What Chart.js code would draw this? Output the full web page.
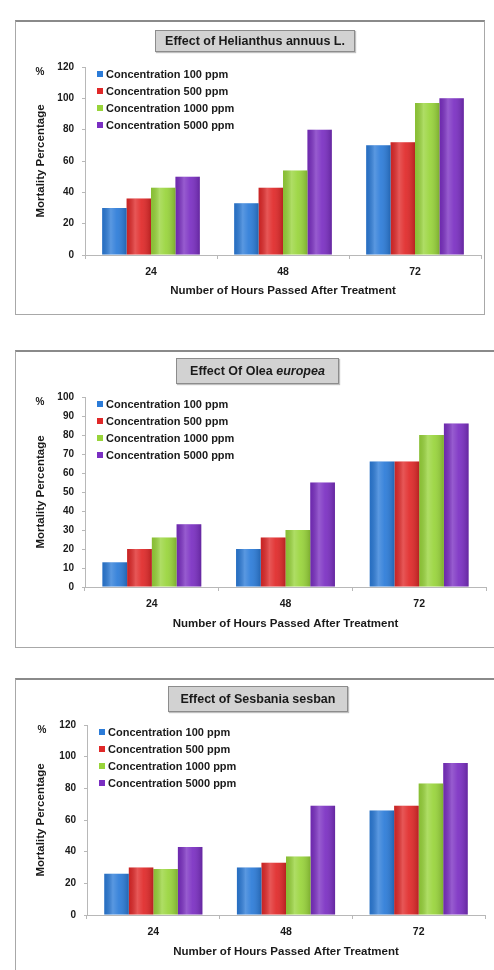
<!DOCTYPE html>
<html>
<head>
<meta charset="utf-8">
<script src="https://cdn.jsdelivr.net/npm/chart.js@4.4.1/dist/chart.umd.min.js"></script>
<style>
  body { margin:0; background:#fff; width:494px; height:970px; overflow:hidden; position:relative;
         font-family:'Liberation Sans', Arial, sans-serif; }
  .panel { position:absolute; left:15px; border:1px solid #a8a8a8; border-top:2px solid #8a8a8a;
           background:#fff; box-sizing:border-box; }
  .panel canvas { position:absolute; left:0; top:0; }
  .ttl { position:absolute; background:#d2d2d2; border:1px solid #8c8c8c; box-sizing:border-box;
         box-shadow:1px 1px 1px rgba(0,0,0,0.25); font:bold 12.5px 'Liberation Sans', Arial, sans-serif;
         color:#1a1a1a; display:flex; align-items:center; justify-content:center; white-space:nowrap; }
</style>
</head>
<body>

<div class="panel" id="p1" style="top:20px;width:470px;height:295px;">
  <canvas id="c1" width="468" height="292"></canvas>
  <div class="ttl" style="left:139px;top:8px;width:200px;height:22px;">Effect of Helianthus annuus L.</div>
</div>

<div class="panel" id="p2" style="top:350px;width:480px;height:298px;">
  <canvas id="c2" width="478" height="295"></canvas>
  <div class="ttl" style="left:160px;top:6px;width:163px;height:26px;">Effect Of Olea&nbsp;<i>europea</i></div>
</div>

<div class="panel" id="p3" style="top:678px;width:480px;height:298px;">
  <canvas id="c3" width="478" height="295"></canvas>
  <div class="ttl" style="left:152px;top:6px;width:180px;height:26px;">Effect of Sesbania sesban</div>
</div>

<script>
// Hours after treatment (x categories) and series names
const HOURS = ['24', '48', '72'];
const SERIES_LABELS = ['Concentration 100 ppm', 'Concentration 500 ppm',
                       'Concentration 1000 ppm', 'Concentration 5000 ppm'];
const SERIES_COLORS = ['#2b7bd8', '#e02828', '#98d43a', '#7a2ec2'];

// Mortality percentage — Helianthus annuus L.
const HELIANTHUS_100  = [30, 33, 70];
const HELIANTHUS_500  = [36, 43, 72];
const HELIANTHUS_1000 = [43, 54, 97];
const HELIANTHUS_5000 = [50, 80, 100];

// Mortality percentage — Olea europea
const OLEA_100  = [13, 20, 66];
const OLEA_500  = [20, 26, 66];
const OLEA_1000 = [26, 30, 80];
const OLEA_5000 = [33, 55, 86];

// Mortality percentage — Sesbania sesban
const SESBANIA_100  = [26, 30, 66];
const SESBANIA_500  = [30, 33, 69];
const SESBANIA_1000 = [29, 37, 83];
const SESBANIA_5000 = [43, 69, 96];

const TEXT = '#1a1a1a';
const FONT = "'Liberation Sans', Arial, sans-serif";

// Cylinder-like shading laid over every bar
const barShade = {
  id: 'barShade',
  afterDatasetsDraw(chart) {
    const ctx = chart.ctx;
    chart.data.datasets.forEach((ds, i) => {
      chart.getDatasetMeta(i).data.forEach(bar => {
        const { x, y, base, width } = bar.getProps(['x', 'y', 'base', 'width'], true);
        const l = x - width / 2;
        const g = ctx.createLinearGradient(l, 0, l + width, 0);
        g.addColorStop(0, 'rgba(0,0,0,0.10)');
        g.addColorStop(0.35, 'rgba(255,255,255,0.22)');
        g.addColorStop(0.6, 'rgba(255,255,255,0.08)');
        g.addColorStop(1, 'rgba(0,0,0,0.18)');
        ctx.save();
        ctx.fillStyle = g;
        ctx.fillRect(l, y, width, base - y);
        ctx.restore();
      });
    });
  }
};

// Legend drawn inside the plot area, plus the "%" unit mark
const innerLegend = {
  id: 'innerLegend',
  afterDraw(chart) {
    const ctx = chart.ctx;
    const a = chart.chartArea;
    ctx.save();
    ctx.font = 'bold 10px ' + FONT;
    ctx.fillStyle = TEXT;
    ctx.textBaseline = 'middle';
    ctx.textAlign = 'center';
    ctx.fillText('%', a.left - 45, a.top + 5);
    ctx.font = 'bold 11px ' + FONT;
    ctx.textAlign = 'left';
    chart.data.datasets.forEach((ds, i) => {
      const y = a.top + 7 + i * 17;
      const x = a.left + 15;
      ctx.fillStyle = ds.backgroundColor;
      ctx.fillRect(x - 3, y - 3, 6, 6);
      ctx.fillStyle = TEXT;
      ctx.fillText(ds.label, x + 6, y + 0.5);
    });
    ctx.restore();
  }
};

function buildChart(id, series, yMax, yStep, area) {
  const canvas = document.getElementById(id);
  return new Chart(canvas, {
    type: 'bar',
    data: {
      labels: HOURS,
      datasets: series.map((vals, i) => ({
        label: SERIES_LABELS[i],
        data: vals,
        backgroundColor: SERIES_COLORS[i],
        borderWidth: 0,
        categoryPercentage: 0.74,
        barPercentage: 1.0
      }))
    },
    options: {
      responsive: false,
      animation: false,
      devicePixelRatio: 1,
      layout: { padding: { left: 0, top: area.top, right: canvas.width - area.right, bottom: 0 } },
      plugins: { legend: { display: false }, tooltip: { enabled: false } },
      scales: {
        x: {
          grid: { display: true, drawOnChartArea: false, drawTicks: true, tickLength: 4,
                  color: '#b8b8b8', offset: true },
          border: { display: true, color: '#b8b8b8', width: 1 },
          ticks: { color: TEXT, font: { family: FONT, size: 10.5, weight: 'bold' }, padding: 7 },
          title: { display: true, text: 'Number of Hours Passed After Treatment', color: TEXT,
                   font: { family: FONT, size: 11.5, weight: 'bold' }, padding: { top: 0, bottom: 16 } },
          afterFit(scale) { scale.height = canvas.height - area.bottom; }
        },
        y: {
          min: 0, max: yMax,
          grid: { display: true, drawOnChartArea: false, drawTicks: true, tickLength: 3, color: '#b8b8b8' },
          border: { display: true, color: '#b8b8b8', width: 1 },
          ticks: { stepSize: yStep, color: TEXT, font: { family: FONT, size: 10, weight: 'bold' }, padding: 8 },
          title: { display: true, text: 'Mortality Percentage', color: TEXT,
                   font: { family: FONT, size: 11.5, weight: 'bold' }, padding: { top: 18, bottom: 0 } },
          afterFit(scale) { scale.width = area.left; }
        }
      }
    },
    plugins: [barShade, innerLegend]
  });
}

buildChart('c1', [HELIANTHUS_100, HELIANTHUS_500, HELIANTHUS_1000, HELIANTHUS_5000], 120, 20,
           { left: 69, right: 465, top: 45, bottom: 233 });
buildChart('c2', [OLEA_100, OLEA_500, OLEA_1000, OLEA_5000], 100, 10,
           { left: 69, right: 470, top: 45, bottom: 235 });
buildChart('c3', [SESBANIA_100, SESBANIA_500, SESBANIA_1000, SESBANIA_5000], 120, 20,
           { left: 71, right: 469, top: 45, bottom: 235 });
</script>
</body>
</html>
